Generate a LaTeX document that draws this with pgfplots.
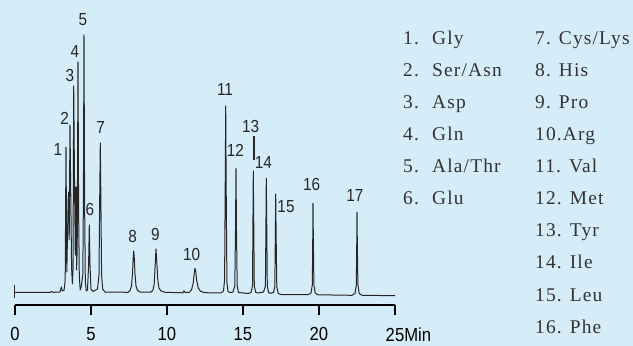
\documentclass[border=0pt]{standalone}
\usepackage{fontspec}
\usepackage{pgfplots}
\pgfplotsset{compat=1.18}
\setmainfont{Liberation Serif}
\newfontfamily\narrowsans[FakeStretch=0.88]{Liberation Sans}
\newfontfamily\legfont[LetterSpace=6]{Liberation Serif}
\definecolor{bg}{RGB}{213,236,249}
\begin{document}
\begin{tikzpicture}
\begin{axis}[
 set layers,
 scale only axis, width=380bp, height=305bp,
 xmin=0, xmax=25, ymin=-5, ymax=300,
 axis x line=bottom, axis y line=left,
 x axis line style={-, draw=black, line width=1.3bp},
 y axis line style={draw=none},
 ytick=\empty,
 xtick={0,5,10,15,20,25},
 xticklabels={0,5,10,15,20,{25\rlap{Min}}},
 xtick align=outside, major tick length=10bp,
 every tick/.style={line width=1.3bp, black},
 xticklabel style={font=\narrowsans\fontsize{19}{20}\selectfont, yshift=-9bp},
 clip=false,
]
\begin{pgfonlayer}{axis background}
\fill[bg] (axis cs:-0.9868,-46) rectangle (axis cs:40.658,300);
\end{pgfonlayer}
\coordinate (bl) at (axis cs:-0.9868,-46);
\coordinate (tr) at (axis cs:40.658,300);
\draw[line width=1.3bp, black] (axis cs:0,-5) -- (axis cs:25,-5);
\pgfplotsinvokeforeach{0,5,10,15,20,25}{\draw[line width=1.3bp, black] (axis cs:#1,-5) -- (axis cs:#1,-15);}
\addplot[line width=1bp, black!85, line join=round] coordinates {
(0,7.5) (1.645,7.5) (2.303,7.5) (2.401,8.5) (2.5,7.7) (2.961,8) (3.046,13) (3.112,9) (3.224,9.5)
(3.303,20) (3.355,153) (3.408,28) (3.5,100) (3.533,108) (3.566,60) (3.618,175) (3.671,102)
(3.724,32) (3.776,16) (3.816,30) (3.862,214) (3.914,122) (3.967,45) (4.013,113) (4.053,30)
(4.092,50) (4.145,238) (4.184,92) (4.230,24) (4.289,10) (4.355,13) (4.461,25) (4.5,100)
(4.539,265) (4.579,100) (4.625,20) (4.684,9) (4.770,10) (4.842,35) (4.888,75) (4.934,35)
(5.0,11) (5.132,8.5) (5.428,11) (5.526,25) (5.572,100) (5.612,157) (5.651,100) (5.697,25)
(5.763,11) (5.921,8) (7.434,7.7) (7.566,9.5) (7.664,14) (7.730,26) (7.776,42) (7.809,49)
(7.849,42) (7.895,26) (7.961,14) (8.059,9.5) (8.224,8) (8.947,7.8) (9.079,10) (9.158,16)
(9.224,35) (9.276,51) (9.329,38) (9.395,20) (9.474,12) (9.605,9) (9.868,7.7) (11.053,7.2)
(11.118,9.2) (11.184,7.5) (11.447,7.5) (11.612,10) (11.724,17) (11.796,27) (11.842,31.7)
(11.895,28) (11.961,19) (12.059,12) (12.204,8.7) (12.5,7.3) (13.553,7) (13.717,9) (13.789,20)
(13.829,110) (13.862,194) (13.895,110) (13.941,18) (14.013,8.5) (14.145,7.5) (14.342,8)
(14.461,14) (14.507,70) (14.539,131.7) (14.572,70) (14.618,14) (14.704,7.5) (15.329,6.5)
(15.526,7.5) (15.625,14) (15.651,70) (15.678,129) (15.711,70) (15.743,14) (15.842,7.5)
(16.020,7) (16.151,7.5) (16.349,8) (16.474,14) (16.507,70) (16.533,121.7) (16.566,70)
(16.599,14) (16.684,7.5) (16.809,6.7) (17.007,7.5) (17.092,13) (17.125,60) (17.151,106)
(17.184,60) (17.224,13) (17.322,6.5) (17.5,5.5) (19.276,5.3) (19.474,7) (19.559,15)
(19.586,55) (19.605,96.7) (19.632,55) (19.664,15) (19.75,7) (19.934,5.2) (22.171,4.7)
(22.368,6.5) (22.454,15) (22.480,50) (22.5,87.7) (22.526,50) (22.559,15) (22.645,6.5)
(22.829,4.7) (25.0,4.3)
};
\draw[line width=1bp, black!85] (axis cs:0,2) -- (axis cs:0,15);
\draw[line width=1.2bp, black!85] (axis cs:15.724,164) -- (axis cs:15.724,140);
\begin{scope}[every node/.style={font=\narrowsans\fontsize{17.5}{20}\selectfont, inner sep=0pt, text=black!85}]
\node at (axis cs:2.829,150) {1};
\node at (axis cs:3.27,182) {2};
\node at (axis cs:3.618,224) {3};
\node at (axis cs:3.947,248) {4};
\node at (axis cs:4.474,280) {5};
\node at (axis cs:4.934,91) {6};
\node at (axis cs:5.638,172) {7};
\node at (axis cs:7.743,64) {8};
\node at (axis cs:9.23,66) {9};
\node at (axis cs:11.625,46) {10};
\node at (axis cs:13.816,210.7) {11};
\node at (axis cs:14.493,150) {12};
\node at (axis cs:15.507,173.3) {13};
\node at (axis cs:16.336,137.7) {14};
\node at (axis cs:17.829,93.3) {15};
\node at (axis cs:19.52,116) {16};
\node at (axis cs:22.368,104) {17};
\end{scope}
\begin{scope}[every node/.style={font=\legfont\fontsize{19.5}{21}\selectfont, inner sep=0pt, anchor=base west, text=black!80}]
\node at (axis cs:25.526,255) {1.};
\node at (axis cs:25.526,223) {2.};
\node at (axis cs:25.526,191.3) {3.};
\node at (axis cs:25.526,159.7) {4.};
\node at (axis cs:25.526,127.3) {5.};
\node at (axis cs:25.526,95.3) {6.};
\node at (axis cs:27.434,255) {Gly};
\node at (axis cs:27.434,223) {Ser/Asn};
\node at (axis cs:27.434,191.3) {Asp};
\node at (axis cs:27.434,159.7) {Gln};
\node at (axis cs:27.434,127.3) {Ala/Thr};
\node at (axis cs:27.434,95.3) {Glu};
\node at (axis cs:34.21,255) {7. Cys/Lys};
\node at (axis cs:34.21,223) {8. His};
\node at (axis cs:34.21,191) {9. Pro};
\node at (axis cs:34.21,159) {10.Arg};
\node at (axis cs:34.21,127) {11. Val};
\node at (axis cs:34.21,95) {12. Met};
\node at (axis cs:34.21,63) {13. Tyr};
\node at (axis cs:34.21,31) {14. Ile};
\node at (axis cs:34.21,-1) {15. Leu};
\node at (axis cs:34.21,-33) {16. Phe};
\end{scope}
\end{axis}
\pgfresetboundingbox
\path[use as bounding box] (bl) rectangle (tr);
\end{tikzpicture}
\end{document}
